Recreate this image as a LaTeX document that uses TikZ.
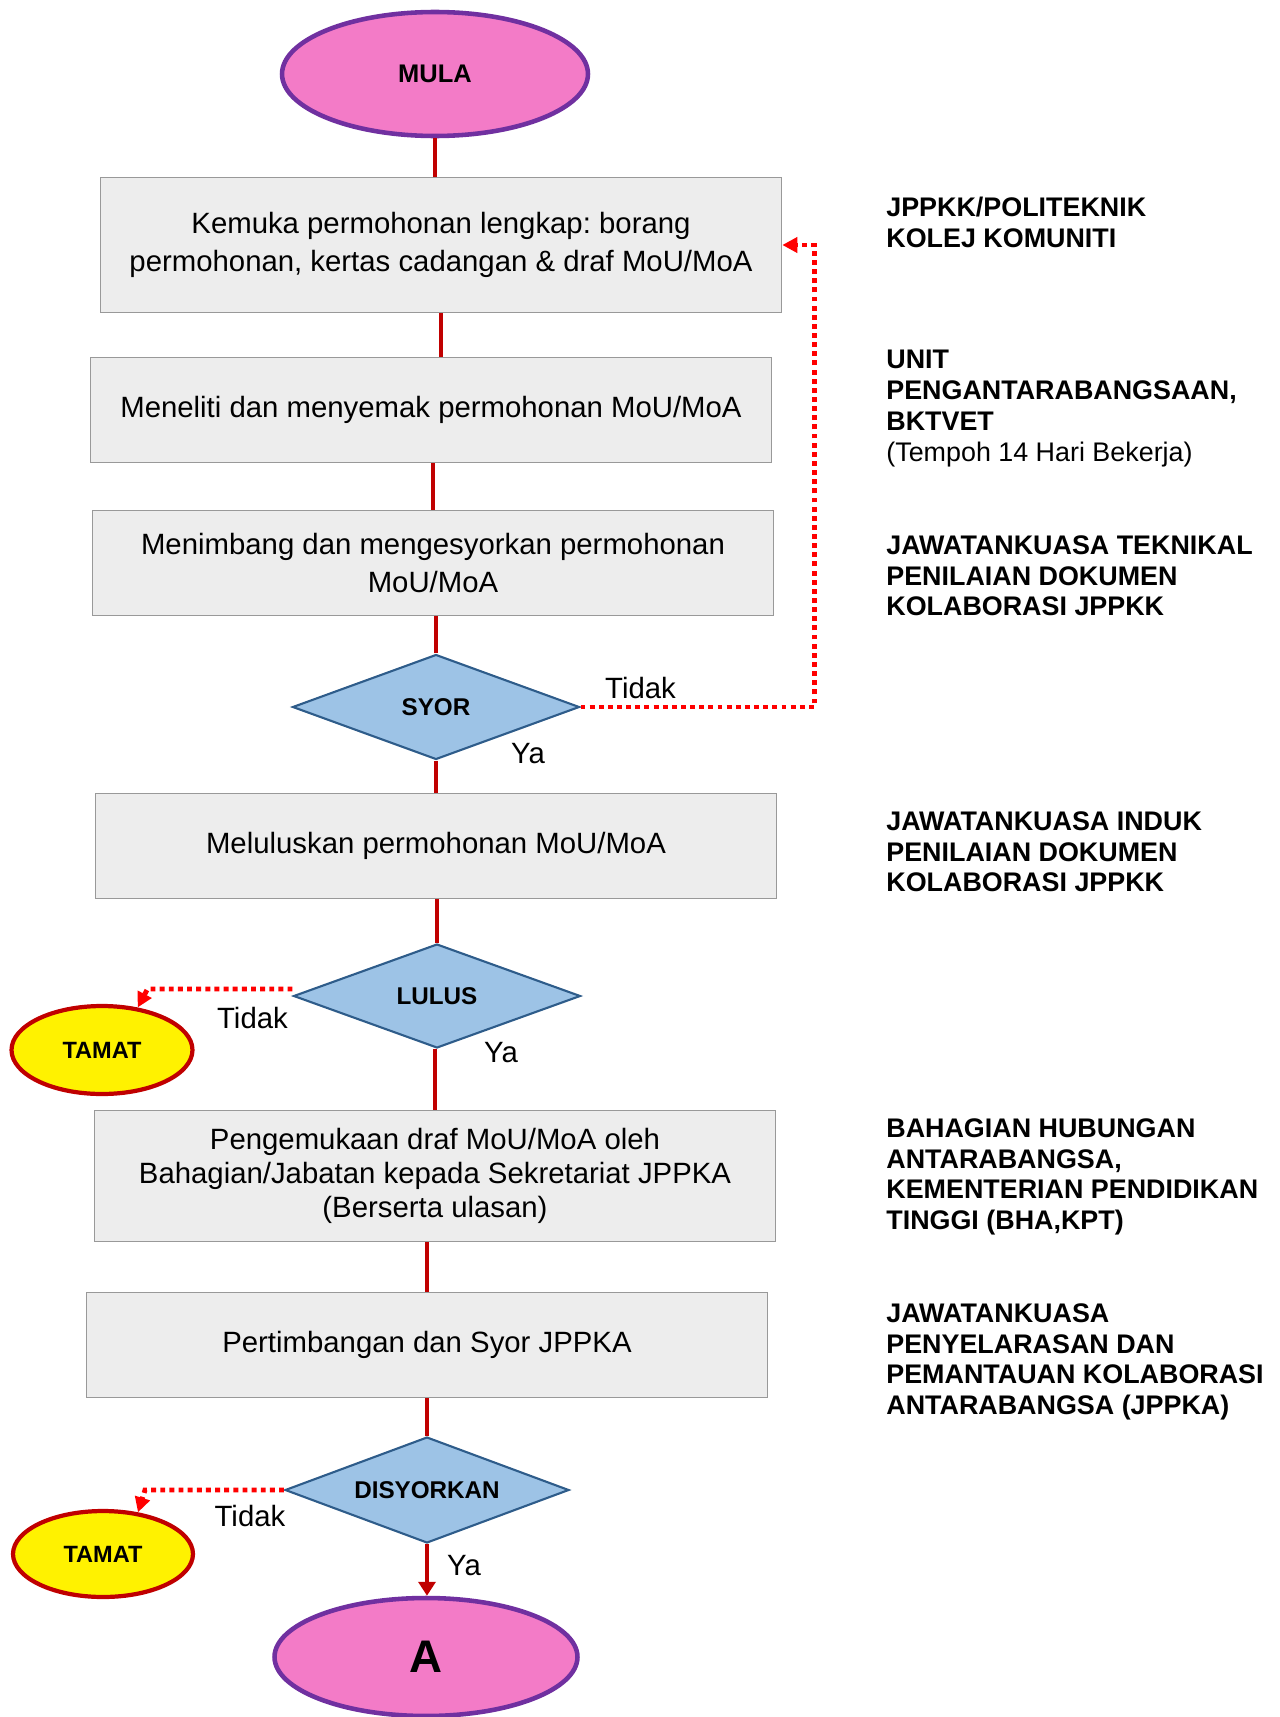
\documentclass[tikz,border=0pt]{standalone}
\usepackage{fontspec}
\setmainfont{Liberation Sans}
\frenchspacing
\usetikzlibrary{shapes.geometric,arrows.meta,calc}
\definecolor{pinkmula}{HTML}{F37BC7}
\definecolor{ungu}{HTML}{7030A0}
\definecolor{kelabu}{HTML}{EDEDED}
\definecolor{kelabutepi}{HTML}{999999}
\definecolor{biru}{HTML}{9DC3E6}
\definecolor{birutepi}{HTML}{2E5C8A}
\definecolor{merah}{HTML}{C00000}

\begin{document}
\begin{tikzpicture}[x=0.02cm, y=-0.02cm,
    terminal/.style={ellipse, draw=ungu, line width=2.6pt, fill=pinkmula, inner sep=0pt, font=\fontsize{14.5}{16}\selectfont\bfseries},
    prosesbox/.style={rectangle, draw=kelabutepi, line width=1pt, fill=kelabu, minimum width=13.62cm, minimum height=2.1cm, align=center, font=\fontsize{16.7}{21.3}\selectfont},
    keputusan/.style={diamond, aspect=2.7, draw=birutepi, line width=1.2pt, fill=biru, minimum width=5.74cm, minimum height=2.1cm, inner sep=0pt, font=\fontsize{13.8}{16}\selectfont\bfseries},
    tamatnode/.style={ellipse, draw=merah, line width=2.4pt, fill=yellow, minimum width=3.62cm, minimum height=1.76cm, inner sep=0pt, font=\fontsize{13.4}{15}\selectfont\bfseries},
    aliranline/.style={draw=merah, line width=2.8pt},
    tidakline/.style={draw=red, line width=2.8pt, dash pattern=on 2.8pt off 2.4pt, -{Triangle[length=0.3cm, width=0.3cm]}},
    pihaklabel/.style={anchor=north west, inner sep=0pt, align=left, font=\fontsize{15.3}{17.6}\selectfont\bfseries},
    jawapan/.style={inner sep=0pt, font=\fontsize{16.7}{20}\selectfont}]
    \useasboundingbox (0, 0) rectangle (1279, 1717);

    \node[terminal, minimum width=6.12cm, minimum height=2.48cm] (mula) at (435, 74) {MULA};
    \node[prosesbox, minimum height=2.7cm, font=\fontsize{16.7}{21.6}\selectfont] (mohon) at (441, 245) {Kemuka permohonan lengkap: borang\\permohonan, kertas cadangan \& draf MoU/MoA};
    \node[prosesbox] (semak) at (431, 410) {Meneliti dan menyemak permohonan MoU/MoA};
    \node[prosesbox] (timbang) at (433, 563) {Menimbang dan mengesyorkan permohonan\\MoU/MoA};
    \node[keputusan] (syor) at (436, 707) {SYOR};
    \node[prosesbox] (luluskan) at (436, 846) {Meluluskan permohonan MoU/MoA};
    \node[keputusan, minimum height=2.08cm] (lulus) at (437, 996) {LULUS};
    \node[tamatnode] (tamat1) at (102, 1050) {TAMAT};
    \node[prosesbox, minimum height=2.62cm, font=\fontsize{16.7}{19.3}\selectfont] (kemuka) at (435, 1176) {Pengemukaan draf MoU/MoA oleh\\Bahagian/Jabatan kepada Sekretariat JPPKA\\(Berserta ulasan)};
    \node[prosesbox] (jppka) at (427, 1345) {Pertimbangan dan Syor JPPKA};
    \node[keputusan, minimum width=5.68cm, minimum height=2.12cm] (disyor) at (427, 1490) {DISYORKAN};
    \node[tamatnode, minimum width=3.6cm, minimum height=1.72cm] (tamat2) at (103, 1554) {TAMAT};
    \node[terminal, minimum width=6.06cm, minimum height=2.36cm, font=\fontsize{26}{30}\selectfont\bfseries] (A) at (426, 1657) {A};

    \node[jawapan] (tidak1) at ($(syor.east) + (60, -19)$) {Tidak};
    \node[jawapan] (ya1) at ($(syor.south) + (92, -7)$) {Ya};
    \node[jawapan] (tidak2) at ($(lulus.west) + (-40, 22)$) {Tidak};
    \node[jawapan] (ya2) at ($(lulus.south) + (64, 3)$) {Ya};
    \node[jawapan] (tidak3) at ($(disyor.west) + (-34, 26)$) {Tidak};
    \node[jawapan] (ya3) at ($(disyor.south) + (37, 21)$) {Ya};

    \node[pihaklabel] (pihak1) at (886, 197) {JPPKK/POLITEKNIK\\KOLEJ KOMUNITI};
    \node[pihaklabel] (pihak2) at (886, 350) {UNIT\\PENGANTARABANGSAAN,\\BKTVET\\{\mdseries (Tempoh 14 Hari Bekerja)}};
    \node[pihaklabel] (pihak3) at (886, 535) {JAWATANKUASA TEKNIKAL\\PENILAIAN DOKUMEN\\KOLABORASI JPPKK};
    \node[pihaklabel] (pihak4) at (886, 811) {JAWATANKUASA INDUK\\PENILAIAN DOKUMEN\\KOLABORASI JPPKK};
    \node[pihaklabel] (pihak5) at (886, 1118) {BAHAGIAN HUBUNGAN\\ANTARABANGSA,\\KEMENTERIAN PENDIDIKAN\\TINGGI (BHA,KPT)};
    \node[pihaklabel] (pihak6) at (886, 1303) {JAWATANKUASA\\PENYELARASAN DAN\\PEMANTAUAN KOLABORASI\\ANTARABANGSA (JPPKA)};

    \draw[aliranline] (mula.south) -- (mula.south |- mohon.north);
    \draw[aliranline] (mohon.south) -- (mohon.south |- semak.north);
    \draw[aliranline] (timbang.north) -- (timbang.north |- semak.south);
    \draw[aliranline] (syor.north) -- (syor.north |- timbang.south);
    \draw[aliranline] (syor.south) -- (syor.south |- luluskan.north);
    \draw[aliranline] (lulus.north) -- (lulus.north |- luluskan.south);
    \draw[aliranline] (kemuka.north) -- (kemuka.north |- lulus.south);
    \draw[aliranline] (jppka.north) -- (jppka.north |- kemuka.south);
    \draw[aliranline] (disyor.north) -- (disyor.north |- jppka.south);
    \draw[aliranline, -{Triangle[length=0.28cm, width=0.34cm]}] (disyor.south) -- (disyor.south |- A.north);

    \draw[tidakline] (syor.east) -- ([xshift=4.68cm]syor.east) |- (mohon.east);
    \draw[tidakline] ([yshift=0.14cm]lulus.west) -- ([xshift=-2.9cm, yshift=0.14cm]lulus.west) -- (tamat1.50);
    \draw[tidakline] (disyor.west) -- ([xshift=-2.78cm]disyor.west) -- (tamat2.50);
\end{tikzpicture}
\end{document}
